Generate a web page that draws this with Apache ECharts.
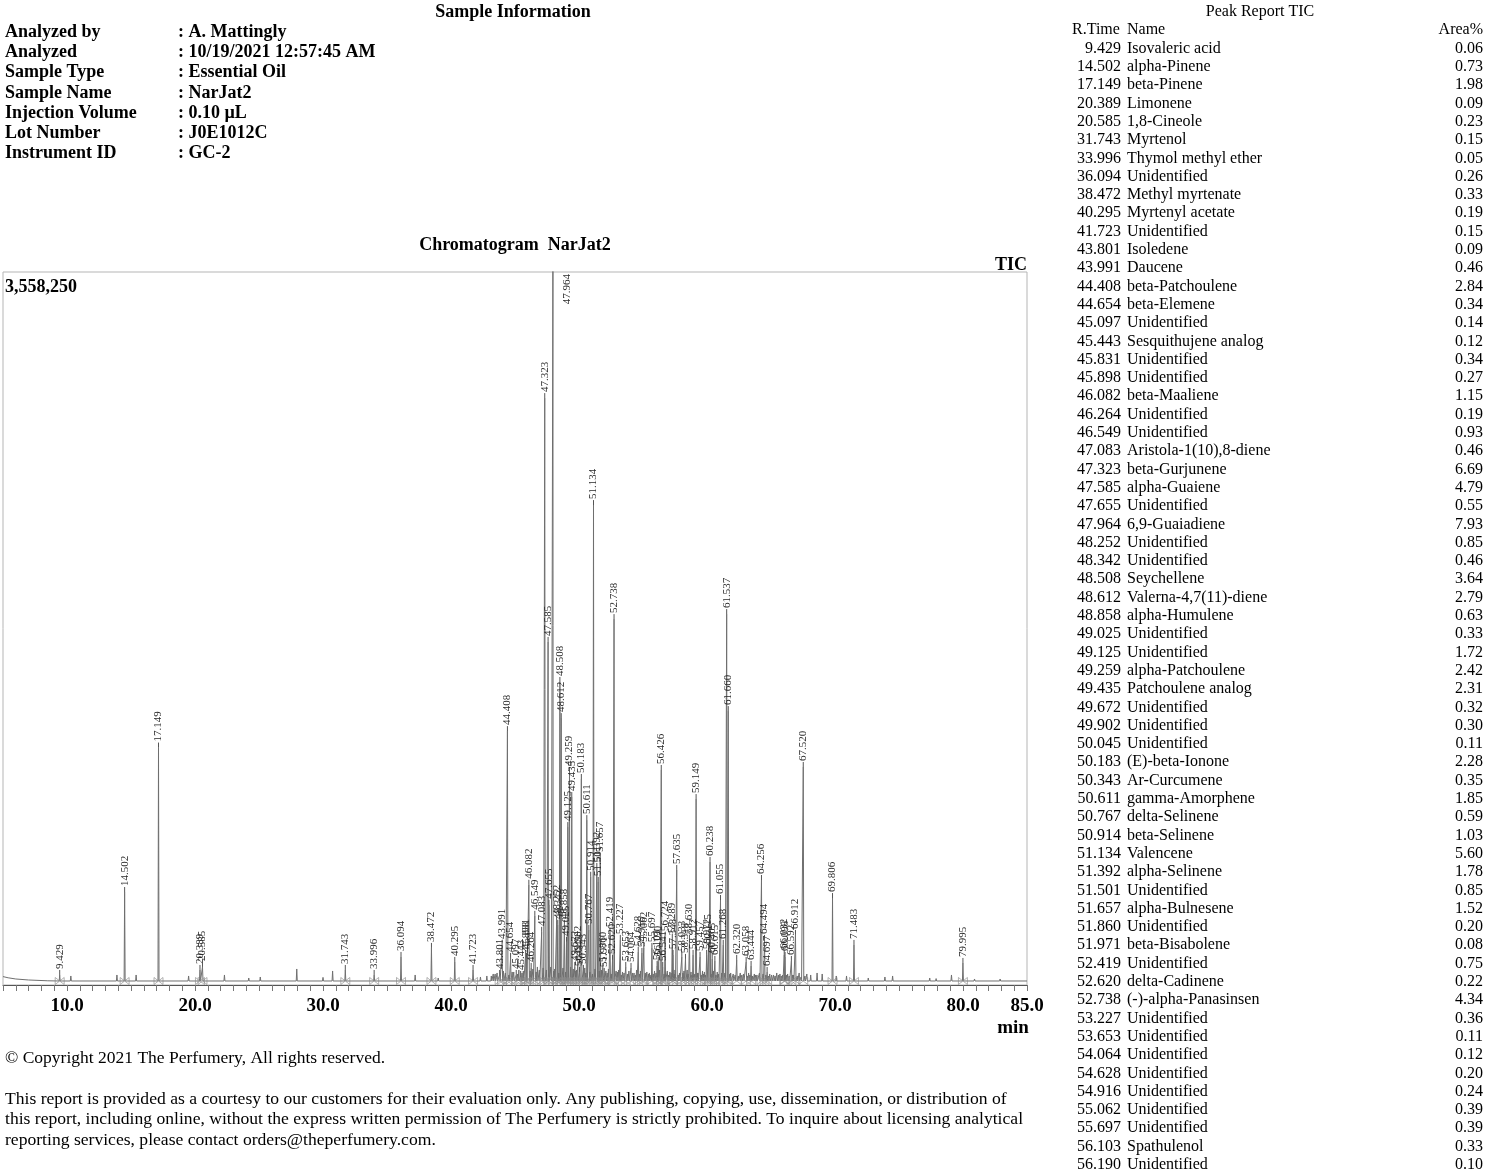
<!DOCTYPE html>
<html><head><meta charset="utf-8">
<script src="https://cdn.jsdelivr.net/npm/echarts@6/dist/echarts.min.js"></script>
<style>html,body{margin:0;padding:0;background:#fff}#c{width:1500px;height:1174px}</style>
</head><body><div id="c"></div>
<script>
// ---------------- data ----------------
const infoLabels = ['Analyzed by', 'Analyzed', 'Sample Type', 'Sample Name', 'Injection Volume', 'Lot Number', 'Instrument ID'];
const infoValues = [': A. Mattingly', ': 10/19/2021 12:57:45 AM', ': Essential Oil', ': NarJat2', ': 0.10 µL', ': J0E1012C', ': GC-2'];

const yMax = 3558250;
const xTickLabels = [10, 20, 30, 40, 50, 60, 70, 80, 85];

// labelled peaks: retention time (min) and apex intensity (counts)
const peakRT = [9.429, 14.502, 17.149, 20.389, 20.585, 31.743, 33.996, 36.094, 38.472, 40.295, 41.723,
  43.801, 43.991, 44.408, 44.654, 45.097, 45.443, 45.831, 45.898, 46.082, 46.264, 46.549, 47.083,
  47.323, 47.585, 47.655, 47.964, 48.252, 48.342, 48.508, 48.612, 48.858, 49.025, 49.125, 49.259,
  49.435, 49.672, 49.902, 50.045, 50.183, 50.343, 50.611, 50.767, 50.914, 51.134, 51.392, 51.501,
  51.657, 51.860, 51.971, 52.419, 52.620, 52.738, 53.227, 53.653, 54.064, 54.628, 54.916, 55.062,
  55.697, 56.103, 56.190, 56.426, 56.541, 56.724, 57.289, 57.348, 57.635, 58.033, 58.318, 58.630,
  58.912, 59.149, 59.457, 59.972, 60.115, 60.238, 60.405, 60.615, 61.055, 61.268, 61.537, 61.660,
  62.320, 63.058, 63.444, 64.256, 64.494, 64.697, 66.032, 66.098, 66.592, 66.912, 67.520, 69.806,
  71.483, 79.995];
const peakHeight = [50000, 464000, 1185000, 75000, 90000, 75000, 50000, 140000, 185000, 115000, 75000,
  50000, 200000, 1267000, 135000, 50000, 45000, 150000, 135000, 500000, 85000, 345000, 265000,
  2929000, 1712000, 400000, 3700000, 320000, 300000, 1512000, 1332000, 300000, 215000, 788000, 1063000,
  938000, 90000, 115000, 65000, 1028000, 75000, 823000, 275000, 540000, 2395000, 584000, 514000,
  634000, 85000, 60000, 260000, 125000, 1826000, 225000, 90000, 85000, 165000, 160000, 185000,
  185000, 95000, 115000, 1073000, 90000, 240000, 230000, 150000, 574000, 140000, 130000, 225000,
  150000, 928000, 140000, 150000, 175000, 614000, 130000, 120000, 424000, 200000, 1851000, 1367000,
  125000, 115000, 95000, 524000, 225000, 65000, 150000, 140000, 120000, 250000, 1088000, 434000,
  200000, 110000];

// small unlabelled peaks
const minorRT = [10.3, 13.9, 15.4, 19.5, 22.3, 24.2, 25.1, 27.95, 30.0, 30.75, 37.2, 39.0,
  42.3, 42.8, 43.3, 43.6, 44.1, 44.9, 45.3, 45.65, 46.4, 46.75, 46.9, 47.2, 47.8, 48.1, 48.75,
  49.35, 49.55, 49.8, 50.45, 51.25, 51.75, 52.1, 52.3, 52.9, 53.1, 53.4, 53.9, 54.3, 54.5, 54.8,
  55.3, 55.5, 55.9, 56.3, 56.9, 57.1, 57.5, 57.85, 58.2, 58.45, 58.75, 59.3, 59.65, 59.8, 60.5,
  60.8, 61.4, 61.85, 62.05, 62.6, 62.85, 63.25, 63.7, 63.9, 64.1, 64.9, 65.2, 65.45, 65.7, 65.9,
  66.3, 66.75, 67.2, 67.8, 68.1, 68.6, 69.0, 70.1, 70.9, 72.6, 73.9, 74.5, 77.4, 77.9, 79.1,
  80.9, 82.9,
  43.15, 43.45, 44.25, 44.52, 44.78, 45.2, 45.55, 46.18, 46.65, 47.45, 48.02, 48.42, 48.95,
  49.75, 50.53, 50.85, 51.05, 51.58, 52.2, 52.52, 53.0, 53.3, 53.52, 53.78, 54.18, 54.4, 54.72,
  55.18, 55.42, 55.62, 55.8, 56.02, 56.65, 57.0, 57.2, 57.45, 57.75, 58.12, 58.52, 58.82, 59.05,
  59.25, 59.55, 59.72, 59.88, 60.32, 60.7, 60.9, 61.15, 61.78, 62.2, 62.45, 62.72, 63.15, 63.35,
  63.55, 63.8, 64.38, 64.6, 64.8, 65.05, 65.32, 65.58, 65.8, 66.2, 66.42, 66.68, 67.05, 67.35, 67.65];
const minorHeight = [45000, 50000, 50000, 45000, 50000, 35000, 40000, 80000, 38000, 70000, 50000, 35000,
  40000, 45000, 55000, 60000, 70000, 65000, 75000, 70000, 80000, 90000, 75000, 85000, 90000, 80000, 85000,
  90000, 80000, 75000, 85000, 80000, 75000, 70000, 80000, 70000, 75000, 65000, 70000, 60000, 75000, 70000,
  65000, 60000, 70000, 75000, 70000, 65000, 75000, 60000, 70000, 75000, 65000, 60000, 70000, 65000, 70000,
  65000, 60000, 60000, 55000, 60000, 55000, 60000, 55000, 50000, 60000, 55000, 50000, 60000, 55000, 50000,
  55000, 50000, 60000, 55000, 50000, 60000, 55000, 45000, 45000, 35000, 40000, 45000, 35000, 32000, 50000,
  30000, 30000,
  45000, 55000, 60000, 50000, 65000, 55000, 60000, 70000, 65000, 75000, 70000, 60000, 65000,
  70000, 60000, 65000, 55000, 70000, 60000, 55000, 65000, 50000, 60000, 55000, 60000, 50000, 55000,
  60000, 55000, 50000, 55000, 60000, 55000, 50000, 60000, 55000, 50000, 60000, 55000, 50000, 55000,
  60000, 50000, 55000, 50000, 55000, 50000, 55000, 60000, 55000, 50000, 45000, 50000, 45000, 50000,
  45000, 50000, 55000, 50000, 45000, 50000, 45000, 50000, 45000, 50000, 45000, 50000, 45000, 40000, 45000];

// baseline level of the trace
const baseRT = [5.0, 5.4, 6.0, 7.0, 8.5, 85.0];
const baseLevel = [42000, 36000, 30000, 25000, 21000, 20000];
const baseline = 20000;

// peak report table
const tableRT = ['9.429', '14.502', '17.149', '20.389', '20.585', '31.743', '33.996', '36.094', '38.472', '40.295', '41.723',
  '43.801', '43.991', '44.408', '44.654', '45.097', '45.443', '45.831', '45.898', '46.082', '46.264', '46.549',
  '47.083', '47.323', '47.585', '47.655', '47.964', '48.252', '48.342', '48.508', '48.612', '48.858', '49.025',
  '49.125', '49.259', '49.435', '49.672', '49.902', '50.045', '50.183', '50.343', '50.611', '50.767', '50.914',
  '51.134', '51.392', '51.501', '51.657', '51.860', '51.971', '52.419', '52.620', '52.738', '53.227', '53.653',
  '54.064', '54.628', '54.916', '55.062', '55.697', '56.103', '56.190'];
const tableName = ['Isovaleric acid', 'alpha-Pinene', 'beta-Pinene', 'Limonene', '1,8-Cineole', 'Myrtenol',
  'Thymol methyl ether', 'Unidentified', 'Methyl myrtenate', 'Myrtenyl acetate', 'Unidentified', 'Isoledene',
  'Daucene', 'beta-Patchoulene', 'beta-Elemene', 'Unidentified', 'Sesquithujene analog', 'Unidentified',
  'Unidentified', 'beta-Maaliene', 'Unidentified', 'Unidentified', 'Aristola-1(10),8-diene', 'beta-Gurjunene',
  'alpha-Guaiene', 'Unidentified', '6,9-Guaiadiene', 'Unidentified', 'Unidentified', 'Seychellene',
  'Valerna-4,7(11)-diene', 'alpha-Humulene', 'Unidentified', 'Unidentified', 'alpha-Patchoulene',
  'Patchoulene analog', 'Unidentified', 'Unidentified', 'Unidentified', '(E)-beta-Ionone', 'Ar-Curcumene',
  'gamma-Amorphene', 'delta-Selinene', 'beta-Selinene', 'Valencene', 'alpha-Selinene', 'Unidentified',
  'alpha-Bulnesene', 'Unidentified', 'beta-Bisabolene', 'Unidentified', 'delta-Cadinene',
  '(-)-alpha-Panasinsen', 'Unidentified', 'Unidentified', 'Unidentified', 'Unidentified', 'Unidentified',
  'Unidentified', 'Unidentified', 'Spathulenol', 'Unidentified'];
const tableArea = ['0.06', '0.73', '1.98', '0.09', '0.23', '0.15', '0.05', '0.26', '0.33', '0.19', '0.15',
  '0.09', '0.46', '2.84', '0.34', '0.14', '0.12', '0.34', '0.27', '1.15', '0.19', '0.93', '0.46', '6.69',
  '4.79', '0.55', '7.93', '0.85', '0.46', '3.64', '2.79', '0.63', '0.33', '1.72', '2.42', '2.31', '0.32',
  '0.30', '0.11', '2.28', '0.35', '1.85', '0.59', '1.03', '5.60', '1.78', '0.85', '1.52', '0.20', '0.08',
  '0.75', '0.22', '4.34', '0.36', '0.11', '0.12', '0.20', '0.24', '0.39', '0.39', '0.33', '0.10'];

const footerLines = [
  'This report is provided as a courtesy to our customers for their evaluation only. Any publishing, copying, use, dissemination, or distribution of',
  'this report, including online, without the express written permission of The Perfumery is strictly prohibited. To inquire about licensing analytical',
  'reporting services, please contact orders@theperfumery.com.'
];

// ---------------- build trace ----------------
const HW = 0.04;
let pts = [];
baseRT.forEach((t, i) => pts.push([t, baseLevel[i]]));
function addPeak(t, h) {
  pts.push([t - HW, baseline]);
  pts.push([t, h]);
  pts.push([t + HW, baseline]);
}
peakRT.forEach((t, i) => addPeak(t, peakHeight[i]));
minorRT.forEach((t, i) => addPeak(t, minorHeight[i]));
pts.sort((a, b) => a[0] - b[0]);

const SERIF = '"Liberation Serif", "Times New Roman", serif';
const graphics = [];
function txt(x, y, s, opt) {
  opt = opt || {};
  graphics.push({
    type: 'text', x: x, y: y, silent: true,
    style: {
      text: s, fill: opt.fill || '#000',
      font: (opt.bold ? 'bold ' : '') + (opt.size || 18) + 'px ' + SERIF,
      textAlign: opt.align || 'left', textVerticalAlign: 'middle'
    }
  });
}
txt(513, 12, 'Sample Information', { bold: true, align: 'center' });
infoLabels.forEach((s, i) => {
  txt(5, 32 + i * 20.3, s, { bold: true });
  txt(178, 32 + i * 20.3, infoValues[i], { bold: true });
});
txt(515, 245, 'Chromatogram  NarJat2', { bold: true, align: 'center' });
txt(1027, 265, 'TIC', { bold: true, align: 'right' });
txt(5, 287, '3,558,250', { bold: true });
txt(1013, 1028, 'min', { bold: true, align: 'center', size: 19 });
txt(5, 1058, '© Copyright 2021 The Perfumery, All rights reserved.', { size: 17.5 });
footerLines.forEach((s, i) => txt(5, 1099 + i * 20.5, s, { size: 17.6 }));

txt(1260, 12, 'Peak Report TIC', { size: 16, align: 'center' });
txt(1072, 30, 'R.Time', { size: 16 });
txt(1127, 30, 'Name', { size: 16 });
txt(1483, 30, 'Area%', { size: 16, align: 'right' });
tableRT.forEach((s, i) => {
  const y = 48.5 + i * 18.3;
  txt(1121, y, s, { size: 16, align: 'right' });
  txt(1127, y, tableName[i], { size: 16 });
  txt(1483, y, tableArea[i], { size: 16, align: 'right' });
});

const chart = echarts.init(document.getElementById('c'), null, { renderer: 'canvas' });
chart.setOption({
  animation: false,
  backgroundColor: '#fff',
  grid: { left: 3, top: 272, width: 1024, height: 713, show: true, borderColor: '#b5b5b5', borderWidth: 1 },
  xAxis: {
    type: 'value', min: 5, max: 85, interval: 1,
    axisLine: { show: true, lineStyle: { color: '#555', width: 1 } },
    axisTick: { show: true, length: 6, lineStyle: { color: '#777' } },
    splitLine: { show: false },
    axisLabel: {
      margin: 12, color: '#000', fontFamily: SERIF, fontWeight: 'bold', fontSize: 19,
      showMinLabel: true, showMaxLabel: true,
      formatter: v => xTickLabels.indexOf(v) >= 0 ? v.toFixed(1) : ''
    }
  },
  yAxis: { type: 'value', min: 0, max: yMax, show: false },
  series: [
    {
      type: 'line', data: pts, showSymbol: false, symbol: 'none', clip: true,
      lineStyle: { color: '#6f6f6f', width: 1 }, silent: true, z: 2
    },
    {
      type: 'scatter', silent: true, z: 2,
      data: peakRT.map(t => [t, baseline]),
      symbol: 'path://M0,0L5,4L0,8Z M10,0L5,4L10,8Z', symbolSize: [9, 7],
      itemStyle: { color: 'rgba(0,0,0,0)', borderColor: '#8a8a8a', borderWidth: 0.8 }
    },
    {
      type: 'custom', silent: true, z: 3,
      data: peakRT.map((t, i) => [t, peakHeight[i]]),
      renderItem: function (params, api) {
        const t = api.value(0), h = api.value(1);
        const label = t.toFixed(3);
        if (h > yMax) {
          const p = api.coord([t, yMax]);
          return {
            type: 'text', x: p[0] + 14, y: p[1] + 2, rotation: Math.PI / 2,
            style: { text: label, fill: '#2a2a2a', font: '11px ' + SERIF, textAlign: 'right', textVerticalAlign: 'middle' }
          };
        }
        const p = api.coord([t, h]);
        return {
          type: 'group',
          children: [
            { type: 'line', shape: { x1: p[0], y1: p[1], x2: p[0], y2: p[1] - 5 }, style: { stroke: '#555', lineWidth: 1 } },
            {
              type: 'text', x: p[0], y: p[1] - 6, rotation: Math.PI / 2,
              style: { text: label, fill: '#2a2a2a', font: '11px ' + SERIF, textAlign: 'left', textVerticalAlign: 'middle' }
            }
          ]
        };
      }
    }
  ],
  graphic: graphics
});
</script>
</body></html>
